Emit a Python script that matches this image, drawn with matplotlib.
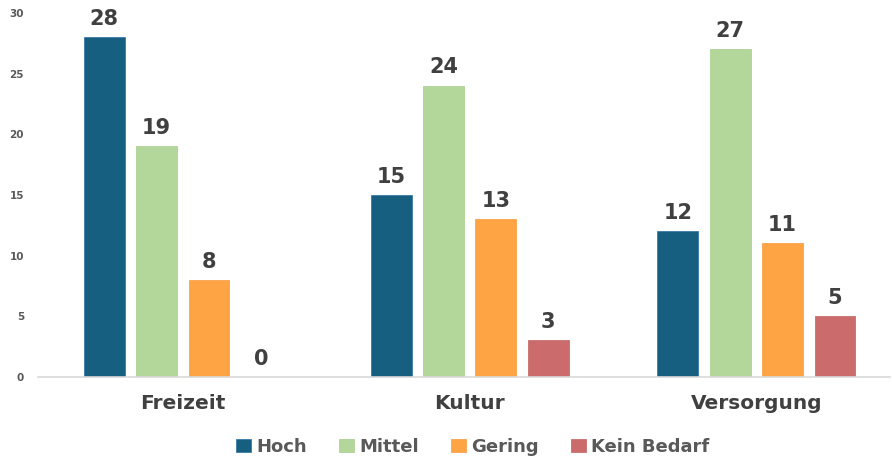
import numpy as np
import matplotlib.pyplot as plt

categories = ["Freizeit", "Kultur", "Versorgung"]
series_names = ["Hoch", "Mittel", "Gering", "Kein Bedarf"]
hoch = [28, 15, 12]
mittel = [19, 24, 27]
gering = [8, 13, 11]
kein_bedarf = [0, 3, 5]
y_ticks = [0, 5, 10, 15, 20, 25, 30]

colors = ["#175F80", "#B3D69B", "#FFA444", "#CC6B6B"]
edges = ["#2A6FA0", "#A6CC8C", "#F59A3C", "#C06060"]

fig = plt.figure(figsize=(8.92, 4.63), dpi=100)
ax = fig.add_axes([0.0426, 0.186, 0.955, 0.786])

x = np.arange(len(categories))
width = 0.1426
step = 0.1826
for i, (name, vals) in enumerate(zip(series_names, [hoch, mittel, gering, kein_bedarf])):
    pos = x + (i - 1.5) * step
    bars = ax.bar(pos, vals, width, color=colors[i], edgecolor=edges[i], linewidth=0.5, label=name, zorder=2)
    for b, v in zip(bars, vals):
        ax.annotate(str(v), (b.get_x() + b.get_width() / 2, v), xytext=(0, 6), textcoords="offset points",
                    ha="center", va="bottom", fontsize=15, fontweight="bold", color="#404040")

ax.set_xlim(-0.505, 2.465)
ax.set_ylim(0, 30)
ax.set_yticks(y_ticks)
ax.set_yticklabels([str(t) for t in y_ticks], fontsize=7.5, fontweight="bold", color="#595959")
ax.set_xticks(x)
ax.set_xticklabels(categories, fontsize=14.5, fontweight="bold", color="#404040")
ax.tick_params(axis="both", length=0)
ax.tick_params(axis="y", pad=10)
ax.tick_params(axis="x", pad=12)
for s in ["top", "right", "left"]:
    ax.spines[s].set_visible(False)
ax.spines["bottom"].set_color("#D9D9D9")
ax.spines["bottom"].set_linewidth(1.2)

leg = fig.legend(loc="center", bbox_to_anchor=(0.53, 0.035), ncol=4, frameon=False,
                 handlelength=0.8, handleheight=0.8, handletextpad=0.3, columnspacing=1.8,
                 prop={"size": 13, "weight": "bold"})
for t in leg.get_texts():
    t.set_color("#595959")

fig.savefig("out.png", dpi=100)
